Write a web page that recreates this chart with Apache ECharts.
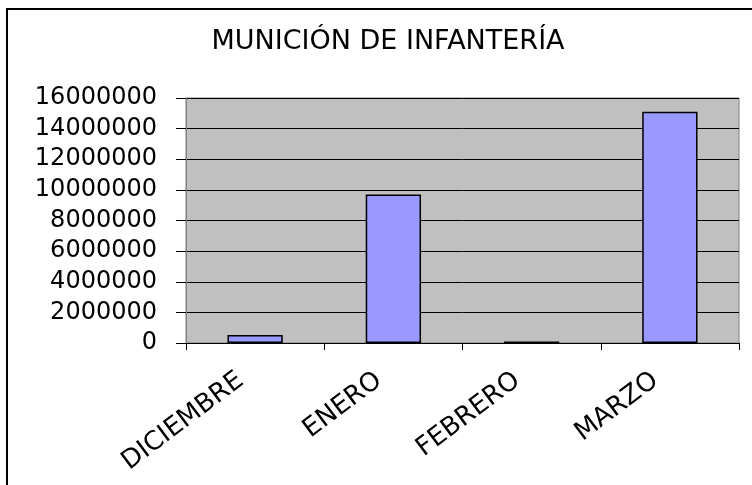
<!DOCTYPE html>
<html>
<head>
<meta charset="utf-8">
<script src="https://cdn.jsdelivr.net/npm/echarts@6/dist/echarts.min.js"></script>
<style>
html,body{margin:0;padding:0;background:#fff;}
#chart{width:752px;height:485px;}
</style>
</head>
<body>
<div id="chart"></div>
<script>
const titleText = "MUNICIÓN DE INFANTERÍA";
const categories = ["DICIEMBRE", "ENERO", "FEBRERO", "MARZO"];
const values = [520000, 9700000, 100000, 15100000];
const yTicks = [0, 2000000, 4000000, 6000000, 8000000, 10000000, 12000000, 14000000, 16000000];

const FONT = "DejaVu Sans";
const chart = echarts.init(document.getElementById('chart'));
chart.setOption({
  animation: false,
  backgroundColor: '#ffffff',
  title: {
    text: titleText,
    left: 383,
    textAlign: 'center',
    top: 23,
    textStyle: { fontFamily: FONT, fontSize: 27, fontWeight: 'normal', color: '#000' }
  },
  graphic: [{
    type: 'rect',
    shape: { x: 7, y: 9, width: 900, height: 700 },
    style: { fill: null, stroke: '#000', lineWidth: 2 },
    silent: true
  }],
  grid: {
    left: 186, right: 13, top: 98, bottom: 142,
    show: true, backgroundColor: '#C0C0C0', borderColor: '#808080', borderWidth: 1
  },
  xAxis: {
    type: 'category',
    data: categories,
    axisLine: { lineStyle: { color: '#000', width: 1 } },
    axisTick: { show: true, length: 7, lineStyle: { color: '#000' }, alignWithLabel: false },
    axisLabel: { rotate: 37, margin: 24, padding: [0, 18, 0, 0], interval: 0, fontFamily: FONT, fontSize: 26, color: '#000' }
  },
  yAxis: {
    type: 'value',
    min: yTicks[0],
    max: yTicks[yTicks.length - 1],
    interval: yTicks[1] - yTicks[0],
    axisLine: { show: true, lineStyle: { color: '#808080', width: 1 } },
    axisTick: { show: true, length: 10, lineStyle: { color: '#000' } },
    splitLine: { show: true, lineStyle: { color: '#000', width: 1 } },
    axisLabel: { margin: 29, fontFamily: FONT, fontSize: 24, color: '#000', formatter: v => String(v) }
  },
  series: [{
    type: 'bar',
    data: values,
    barWidth: '40%',
    itemStyle: { color: '#9999FF', borderColor: '#000', borderWidth: 1.5 }
  }]
});
</script>
</body>
</html>
